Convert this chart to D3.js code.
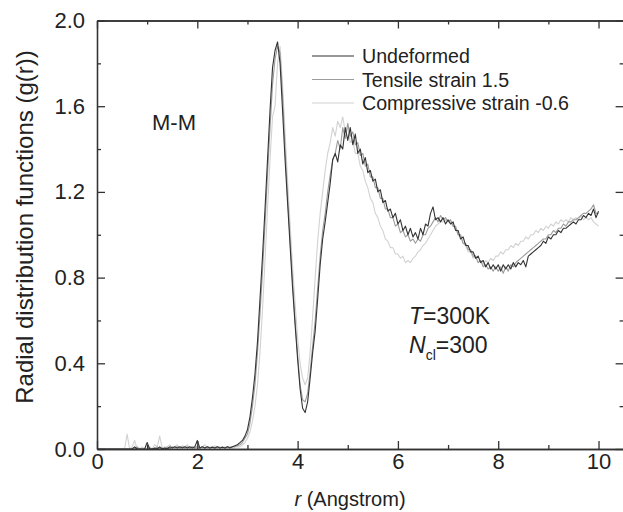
<!DOCTYPE html>
<html>
<head>
<meta charset="utf-8">
<script src="https://d3js.org/d3.v7.min.js"></script>
<style>
  body { margin: 0; background: #fff; }
  svg text { font-family: "Liberation Sans", Arial, sans-serif; fill: #222; }
</style>
</head>
<body>
<svg id="chart" width="623" height="512"></svg>
<script>
// g(r) sampled every 0.05 Angstrom, r = 0 .. 10
var rStep = 0.05;

var undeformed = [
  0,0,0,0,0,0,0,0,0,0,
  0,0,0,0,0,0.01,0,0,0,0,
  0.03,0,0,0.005,0,0.01,0,0.005,0,0.01,
  0.005,0.01,0.005,0.01,0.005,0.01,0.005,0.01,0.005,0.01,
  0.04,0.005,0.01,0.005,0.01,0.005,0.008,0.005,0.01,0.005,
  0.008,0.005,0.01,0.005,0.01,0.015,0.02,0.03,0.04,0.06,
  0.09,0.15,0.24,0.35,0.5,0.7,0.9,1.12,1.35,1.58,
  1.78,1.86,1.9,1.8,1.58,1.35,1.15,0.95,0.75,0.58,
  0.42,0.28,0.19,0.17,0.22,0.33,0.45,0.55,0.7,0.86,
  0.98,1.06,1.15,1.24,1.35,1.38,1.34,1.42,1.4,1.5,
  1.44,1.5,1.42,1.47,1.38,1.4,1.33,1.36,1.29,1.3,
  1.25,1.26,1.2,1.21,1.15,1.16,1.11,1.12,1.08,1.1,
  1.05,1.07,1.02,1.04,1.0,1.03,0.99,1.01,0.98,1.03,
  1.0,1.05,1.04,1.1,1.13,1.07,1.08,1.06,1.08,1.05,
  1.07,1.05,1.06,1.02,1.02,0.98,0.99,0.95,0.95,0.92,
  0.92,0.89,0.9,0.87,0.88,0.85,0.87,0.84,0.86,0.84,
  0.86,0.83,0.86,0.84,0.86,0.84,0.87,0.85,0.87,0.86,
  0.88,0.85,0.9,0.91,0.92,0.93,0.94,0.95,0.97,0.96,
  0.99,0.98,1.0,1.0,1.02,1.01,1.03,1.03,1.04,1.05,
  1.06,1.05,1.07,1.07,1.09,1.08,1.1,1.09,1.12,1.08,
  1.11
];

var tensile = [
  0,0,0,0,0,0,0,0,0,0,
  0,0,0,0,0,0,0.01,0,0,0,
  0,0.005,0,0,0.01,0,0.005,0,0.01,0,
  0.01,0.005,0.01,0.005,0.01,0.005,0.01,0.005,0.01,0.005,
  0.01,0.005,0.01,0.005,0.01,0.005,0.01,0.005,0.01,0.005,
  0.01,0.005,0.01,0.008,0.01,0.012,0.015,0.02,0.03,0.05,
  0.07,0.12,0.2,0.3,0.45,0.63,0.83,1.05,1.28,1.5,
  1.7,1.82,1.88,1.85,1.65,1.4,1.18,0.98,0.78,0.6,
  0.44,0.3,0.23,0.22,0.26,0.36,0.48,0.6,0.75,0.9,
  1.02,1.1,1.2,1.28,1.35,1.38,1.44,1.4,1.5,1.45,
  1.52,1.46,1.48,1.42,1.43,1.37,1.38,1.32,1.33,1.27,
  1.27,1.22,1.22,1.17,1.17,1.12,1.12,1.08,1.08,1.04,
  1.05,1.01,1.02,0.99,1.0,0.97,0.98,0.96,0.98,0.97,
  1.0,1.0,1.03,1.04,1.06,1.08,1.06,1.09,1.07,1.08,
  1.06,1.07,1.04,1.04,1.0,1.0,0.96,0.96,0.93,0.93,
  0.9,0.9,0.87,0.88,0.85,0.86,0.84,0.85,0.83,0.85,
  0.83,0.85,0.82,0.85,0.83,0.86,0.85,0.87,0.88,0.89,
  0.9,0.91,0.92,0.93,0.94,0.95,0.96,0.97,0.98,0.98,
  1.0,1.0,1.02,1.01,1.03,1.03,1.05,1.04,1.06,1.06,
  1.07,1.07,1.08,1.09,1.1,1.1,1.11,1.12,1.14,1.1,
  1.1
];

var compressive = [
  0,0,0,0,0,0,0,0,0,0,
  0,0,0.07,0,0.01,0.04,0,0,0.01,0,
  0.005,0.01,0,0.02,0.01,0.06,0.005,0.01,0.005,0.02,
  0.005,0.01,0.02,0.005,0.015,0.01,0.02,0.005,0.01,0.005,
  0.015,0.005,0.01,0.02,0.005,0.01,0.005,0.015,0.005,0.01,
  0.005,0.01,0.005,0.01,0.005,0.008,0.01,0.01,0.02,0.03,
  0.05,0.08,0.13,0.2,0.3,0.45,0.65,0.88,1.12,1.35,
  1.55,1.6,1.8,1.88,1.7,1.48,1.25,1.05,0.85,0.68,
  0.52,0.4,0.33,0.3,0.33,0.45,0.62,0.8,0.97,1.1,
  1.2,1.3,1.38,1.43,1.5,1.46,1.53,1.5,1.55,1.48,
  1.5,1.43,1.44,1.38,1.38,1.32,1.3,1.25,1.22,1.17,
  1.15,1.1,1.08,1.04,1.02,0.98,0.97,0.94,0.94,0.91,
  0.91,0.89,0.9,0.87,0.88,0.87,0.89,0.9,0.92,0.93,
  0.95,0.96,0.98,1.0,1.02,1.04,1.05,1.06,1.06,1.07,
  1.06,1.06,1.04,1.03,1.0,0.99,0.96,0.95,0.92,0.92,
  0.89,0.9,0.87,0.88,0.86,0.88,0.87,0.89,0.88,0.9,
  0.9,0.92,0.91,0.93,0.93,0.95,0.94,0.96,0.95,0.97,
  0.97,0.99,0.98,1.0,1.0,1.02,1.01,1.03,1.02,1.04,
  1.03,1.05,1.04,1.06,1.05,1.07,1.06,1.07,1.06,1.08,
  1.07,1.08,1.07,1.09,1.07,1.08,1.07,1.08,1.06,1.05,
  1.04
];

var seriesNames = ["Undeformed", "Tensile strain 1.5", "Compressive strain -0.6"];
var seriesColors = ["#333333", "#9c9c9c", "#d2d2d2"];
var xTicks = [0, 2, 4, 6, 8, 10];
var xMinor = [1, 3, 5, 7, 9];
var yTicks = [0, 0.4, 0.8, 1.2, 1.6, 2.0];
var yMinor = [0.2, 0.6, 1.0, 1.4, 1.8];

var svg = d3.select("#chart");
var plotLeft = 97, plotRight = 623.6, plotTop = 20.5, plotBottom = 449;

var x = d3.scaleLinear().domain([0, 10.5]).range([plotLeft, plotRight]);
var y = d3.scaleLinear().domain([0, 2]).range([plotBottom, plotTop]);

var line = d3.line()
  .x(function(d, i) { return x(i * rStep); })
  .y(function(d) { return y(d); });

// draw lightest first so the dark curve sits on top
var allSeries = [undeformed, tensile, compressive];
[2, 1, 0].forEach(function(k) {
  svg.append("path")
    .attr("d", line(allSeries[k]))
    .attr("fill", "none")
    .attr("stroke", seriesColors[k])
    .attr("stroke-width", 1.1)
    .attr("stroke-linejoin", "round");
});

// axes, ticks pointing inward on all sides
function styleAxis(g) {
  g.selectAll("path").attr("stroke", "#333").attr("stroke-width", 1.3);
  g.selectAll("line").attr("stroke", "#333").attr("stroke-width", 1.3);
  g.selectAll("text").attr("font-size", 22).attr("fill", "#222")
    .attr("font-family", "Liberation Sans, Arial, sans-serif");
}

svg.append("g").attr("transform", "translate(0," + plotBottom + ")")
  .call(d3.axisBottom(x).tickValues(xTicks).tickSizeInner(-8).tickSizeOuter(0)
    .tickPadding(4).tickFormat(d3.format("d")))
  .call(styleAxis);
svg.append("g").attr("transform", "translate(0," + plotBottom + ")")
  .call(d3.axisBottom(x).tickValues(xMinor).tickSizeInner(-4).tickSizeOuter(0).tickFormat(""))
  .call(styleAxis);
svg.append("g").attr("transform", "translate(0," + plotTop + ")")
  .call(d3.axisTop(x).tickValues(xTicks).tickSizeInner(-8).tickSizeOuter(0).tickFormat(""))
  .call(styleAxis);
svg.append("g").attr("transform", "translate(0," + plotTop + ")")
  .call(d3.axisTop(x).tickValues(xMinor).tickSizeInner(-4).tickSizeOuter(0).tickFormat(""))
  .call(styleAxis);

svg.append("g").attr("transform", "translate(" + plotLeft + ",0)")
  .call(d3.axisLeft(y).tickValues(yTicks).tickSizeInner(-8).tickSizeOuter(0)
    .tickPadding(12).tickFormat(d3.format(".1f")))
  .call(styleAxis);
svg.append("g").attr("transform", "translate(" + plotLeft + ",0)")
  .call(d3.axisLeft(y).tickValues(yMinor).tickSizeInner(-4).tickSizeOuter(0).tickFormat(""))
  .call(styleAxis);
svg.append("g").attr("transform", "translate(" + plotRight + ",0)")
  .call(d3.axisRight(y).tickValues(yTicks).tickSizeInner(-8).tickSizeOuter(0).tickFormat(""))
  .call(styleAxis);
svg.append("g").attr("transform", "translate(" + plotRight + ",0)")
  .call(d3.axisRight(y).tickValues(yMinor).tickSizeInner(-4).tickSizeOuter(0).tickFormat(""))
  .call(styleAxis);

// axis titles
var xt = svg.append("text")
  .attr("x", 350).attr("y", 506)
  .attr("text-anchor", "middle")
  .attr("font-size", 20);
xt.append("tspan").attr("font-style", "italic").text("r");
xt.append("tspan").text(" (Angstrom)");

svg.append("text")
  .attr("transform", "translate(33,227) rotate(-90)")
  .attr("text-anchor", "middle")
  .attr("font-size", 24)
  .text("Radial distribution functions (g(r))");

// legend
var legend = svg.append("g");
seriesNames.forEach(function(name, i) {
  var ly = 56 + i * 23.5;
  legend.append("line")
    .attr("x1", 312).attr("x2", 354)
    .attr("y1", ly).attr("y2", ly)
    .attr("stroke", seriesColors[i]).attr("stroke-width", 1.2);
  legend.append("text")
    .attr("x", 362).attr("y", ly + 7)
    .attr("font-size", 19.6)
    .text(name);
});

// annotations
svg.append("text").attr("x", 152).attr("y", 130).attr("font-size", 22).text("M-M");

var t1 = svg.append("text").attr("x", 409).attr("y", 324).attr("font-size", 23);
t1.append("tspan").attr("font-style", "italic").text("T");
t1.append("tspan").text("=300K");

var t2 = svg.append("text").attr("x", 409).attr("y", 353).attr("font-size", 23);
t2.append("tspan").attr("font-style", "italic").text("N");
t2.append("tspan").attr("font-size", 14).attr("dy", 7).text("cl");
t2.append("tspan").attr("dy", -7).text("=300");
</script>
</body>
</html>
